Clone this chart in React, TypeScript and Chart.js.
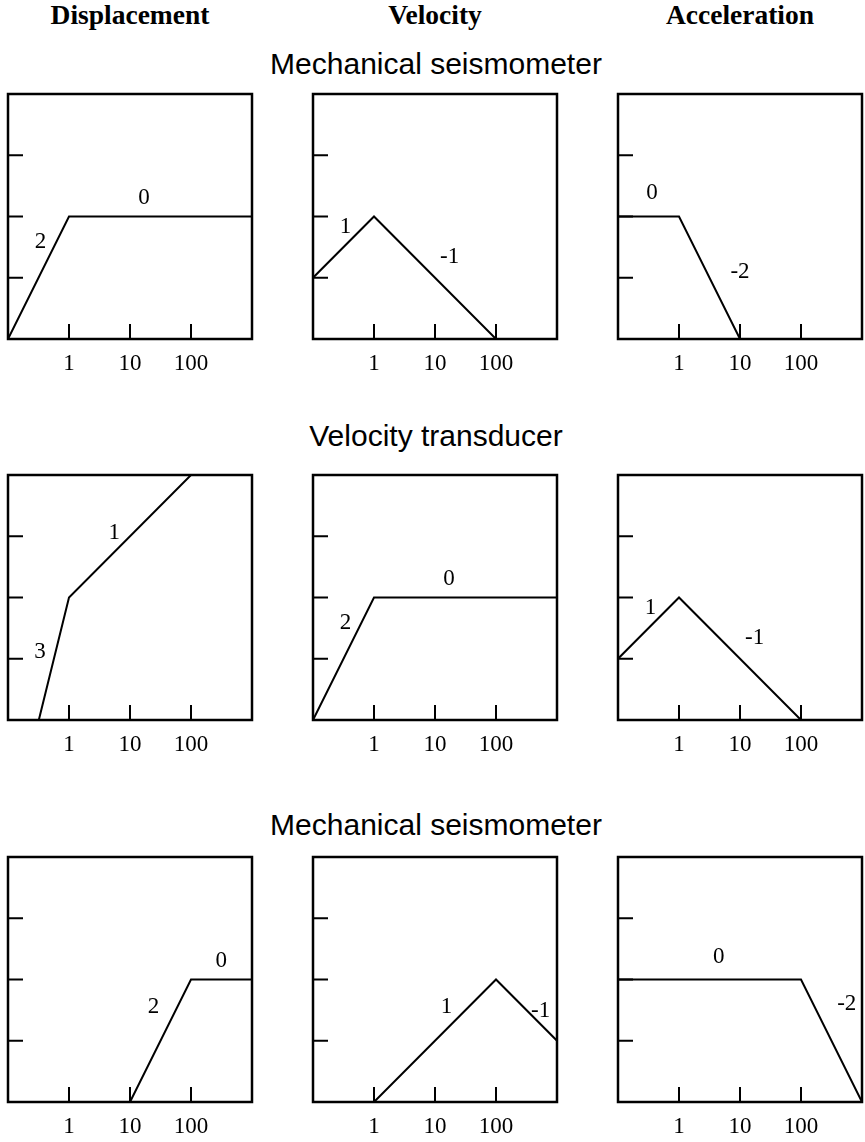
import React, { useEffect, useRef } from "react";
import { Chart, registerables } from "chart.js";

Chart.register(...registerables);

// ---------------- data ----------------
const columnHeaders = ["Displacement", "Velocity", "Acceleration"];
const rowTitles = ["Mechanical seismometer", "Velocity transducer", "Mechanical seismometer"];

const xTickValues = [1, 10, 100];
const xTickLabels = ["1", "10", "100"];
const yTickValues = [10, 100, 1000];
const xRange = [0.1, 1000];
const yRange = [1, 10000];

// Row 1: mechanical seismometer
const mechDispFreq = [0.1, 1, 1000];
const mechDispAmp = [1, 100, 100];
const mechVelFreq = [0.1, 1, 100];
const mechVelAmp = [10, 100, 1];
const mechAccFreq = [0.1, 1, 10];
const mechAccAmp = [100, 100, 1];

// Row 2: velocity transducer
const velDispFreq = [0.32, 1, 100];
const velDispAmp = [1, 100, 10000];
const velVelFreq = [0.1, 1, 1000];
const velVelAmp = [1, 100, 100];
const velAccFreq = [0.1, 1, 100];
const velAccAmp = [10, 100, 1];

// Row 3: mechanical seismometer (high corner)
const mech2DispFreq = [10, 100, 1000];
const mech2DispAmp = [1, 100, 100];
const mech2VelFreq = [1, 100, 1000];
const mech2VelAmp = [1, 100, 10];
const mech2AccFreq = [0.1, 100, 1000];
const mech2AccAmp = [100, 100, 1];

// slope annotations (text, anchor frequency, anchor amplitude)
const mechDispSlopeText = ["2", "0"];
const mechDispSlopeFreq = [0.34, 17];
const mechDispSlopeAmp = [39, 204];
const mechVelSlopeText = ["1", "-1"];
const mechVelSlopeFreq = [0.34, 17.4];
const mechVelSlopeAmp = [67, 22];
const mechAccSlopeText = ["0", "-2"];
const mechAccSlopeFreq = [0.36, 10];
const mechAccSlopeAmp = [238, 12.3];

const velDispSlopeText = ["1", "3"];
const velDispSlopeFreq = [5.5, 0.335];
const velDispSlopeAmp = [1120, 12.8];
const velVelSlopeText = ["2", "0"];
const velVelSlopeFreq = [0.34, 17];
const velVelSlopeAmp = [39, 204];
const velAccSlopeText = ["1", "-1"];
const velAccSlopeFreq = [0.34, 17.4];
const velAccSlopeAmp = [67, 22];

const mech2DispSlopeText = ["2", "0"];
const mech2DispSlopeFreq = [24.3, 313];
const mech2DispSlopeAmp = [36, 204];
const mech2VelSlopeText = ["1", "-1"];
const mech2VelSlopeFreq = [15.5, 540];
const mech2VelSlopeAmp = [35, 31];
const mech2AccSlopeText = ["0", "-2"];
const mech2AccSlopeFreq = [4.5, 562];
const mech2AccSlopeAmp = [232, 40];

const panelData = [
  [
    { freq: mechDispFreq, amp: mechDispAmp, lt: mechDispSlopeText, lf: mechDispSlopeFreq, la: mechDispSlopeAmp },
    { freq: mechVelFreq, amp: mechVelAmp, lt: mechVelSlopeText, lf: mechVelSlopeFreq, la: mechVelSlopeAmp },
    { freq: mechAccFreq, amp: mechAccAmp, lt: mechAccSlopeText, lf: mechAccSlopeFreq, la: mechAccSlopeAmp },
  ],
  [
    { freq: velDispFreq, amp: velDispAmp, lt: velDispSlopeText, lf: velDispSlopeFreq, la: velDispSlopeAmp },
    { freq: velVelFreq, amp: velVelAmp, lt: velVelSlopeText, lf: velVelSlopeFreq, la: velVelSlopeAmp },
    { freq: velAccFreq, amp: velAccAmp, lt: velAccSlopeText, lf: velAccSlopeFreq, la: velAccSlopeAmp },
  ],
  [
    { freq: mech2DispFreq, amp: mech2DispAmp, lt: mech2DispSlopeText, lf: mech2DispSlopeFreq, la: mech2DispSlopeAmp },
    { freq: mech2VelFreq, amp: mech2VelAmp, lt: mech2VelSlopeText, lf: mech2VelSlopeFreq, la: mech2VelSlopeAmp },
    { freq: mech2AccFreq, amp: mech2AccAmp, lt: mech2AccSlopeText, lf: mech2AccSlopeFreq, la: mech2AccSlopeAmp },
  ],
];

// ---------------- layout / style ----------------
const SERIF = '"Liberation Serif", "Times New Roman", Times, serif';
const SANS = '"Liberation Sans", Arial, Helvetica, sans-serif';
const BOX_LEFTS = [8, 313, 618];
const BOX_TOPS = [94, 475, 857];
const BOX_W = 244;
const BOX_H = 245;
const PAD = 5;
const AXIS_H = 45;
const TICK_LEN = 15;
const LABEL_SIZE = 23;
const HEADER_SIZE = 27.5;
const HEADER_CENTERS = [130, 435, 740];
const TITLE_CENTER = 436;
const TITLE_BASELINES = [74, 446, 835];
const HEADER_BASELINE = 24;

type PanelProps = {
  left: number;
  top: number;
  freq: number[];
  amp: number[];
  lt: string[];
  lf: number[];
  la: number[];
};

function Panel({ left, top, freq, amp, lt, lf, la }: PanelProps) {
  const ref = useRef<HTMLCanvasElement | null>(null);
  const cw = BOX_W + PAD * 2;
  const ch = BOX_H + PAD + AXIS_H;

  useEffect(() => {
    if (!ref.current) return;
    const framePlugin = {
      id: "frameAndLabels",
      afterDatasetsDraw(chart: any) {
        const { ctx, chartArea } = chart;
        const xs = chart.scales.x;
        const ys = chart.scales.y;
        const { left: l, right: r, top: t, bottom: b } = chartArea;
        ctx.save();
        ctx.strokeStyle = "#000";
        ctx.lineWidth = 2.5;
        ctx.strokeRect(l, t, r - l, b - t);
        ctx.lineWidth = 2;
        ctx.beginPath();
        xTickValues.forEach((v) => {
          const px = xs.getPixelForValue(v);
          ctx.moveTo(px, b);
          ctx.lineTo(px, b - TICK_LEN);
        });
        yTickValues.forEach((v) => {
          const py = ys.getPixelForValue(v);
          ctx.moveTo(l, py);
          ctx.lineTo(l + TICK_LEN, py);
        });
        ctx.stroke();
        ctx.fillStyle = "#000";
        ctx.font = `${LABEL_SIZE}px ${SERIF}`;
        ctx.textAlign = "center";
        ctx.textBaseline = "middle";
        lt.forEach((txt, i) => {
          ctx.fillText(txt, xs.getPixelForValue(lf[i]), ys.getPixelForValue(la[i]));
        });
        ctx.restore();
      },
    };

    const chart = new Chart(ref.current, {
      type: "line",
      data: {
        datasets: [
          {
            data: freq.map((f, i) => ({ x: f, y: amp[i] })),
            borderColor: "#000",
            borderWidth: 2,
            pointRadius: 0,
            tension: 0,
            fill: false,
          },
        ],
      },
      options: {
        animation: false,
        responsive: false,
        maintainAspectRatio: false,
        events: [],
        layout: { padding: { left: PAD, right: PAD, top: PAD, bottom: 0 } },
        plugins: {
          legend: { display: false },
          tooltip: { enabled: false },
        },
        scales: {
          x: {
            type: "logarithmic",
            min: xRange[0],
            max: xRange[1],
            grid: { display: false, drawTicks: false },
            border: { display: false },
            afterBuildTicks: (s: any) => {
              s.ticks = xTickValues.map((v) => ({ value: v }));
            },
            afterFit: (s: any) => {
              s.height = AXIS_H;
            },
            ticks: {
              autoSkip: false,
              maxRotation: 0,
              minRotation: 0,
              padding: 11,
              color: "#000",
              font: { family: SERIF, size: LABEL_SIZE },
              callback: (_v: any, i: number) => xTickLabels[i],
            },
          },
          y: {
            type: "logarithmic",
            display: false,
            min: yRange[0],
            max: yRange[1],
          },
        },
      } as any,
      plugins: [framePlugin],
    });
    return () => chart.destroy();
  }, []);

  return (
    <canvas
      ref={ref}
      width={cw}
      height={ch}
      style={{ position: "absolute", left: left - PAD, top: top - PAD, width: cw, height: ch }}
    />
  );
}

export default function App() {
  return (
    <div
      style={{
        position: "absolute",
        left: 0,
        top: 0,
        width: 865,
        height: 1142,
        background: "#fff",
        overflow: "hidden",
      }}
    >
      {columnHeaders.map((h, i) => (
        <div
          key={"h" + i}
          style={{
            position: "absolute",
            left: HEADER_CENTERS[i] - 150,
            width: 300,
            top: HEADER_BASELINE - 0.8375 * HEADER_SIZE,
            textAlign: "center",
            fontFamily: SERIF,
            fontWeight: "bold",
            fontSize: HEADER_SIZE,
            lineHeight: HEADER_SIZE + "px",
            whiteSpace: "nowrap",
            color: "#000",
          }}
        >
          {h}
        </div>
      ))}
      {rowTitles.map((t, i) => (
        <div
          key={"t" + i}
          style={{
            position: "absolute",
            left: TITLE_CENTER - 250,
            width: 500,
            top: TITLE_BASELINES[i] - 0.8465 * 30,
            textAlign: "center",
            fontFamily: SANS,
            fontSize: 30,
            lineHeight: "30px",
            whiteSpace: "nowrap",
            color: "#000",
          }}
        >
          {t}
        </div>
      ))}
      {panelData.map((row, ri) =>
        row.map((p, ci) => (
          <Panel
            key={ri + "-" + ci}
            left={BOX_LEFTS[ci]}
            top={BOX_TOPS[ri]}
            freq={p.freq}
            amp={p.amp}
            lt={p.lt}
            lf={p.lf}
            la={p.la}
          />
        ))
      )}
    </div>
  );
}
